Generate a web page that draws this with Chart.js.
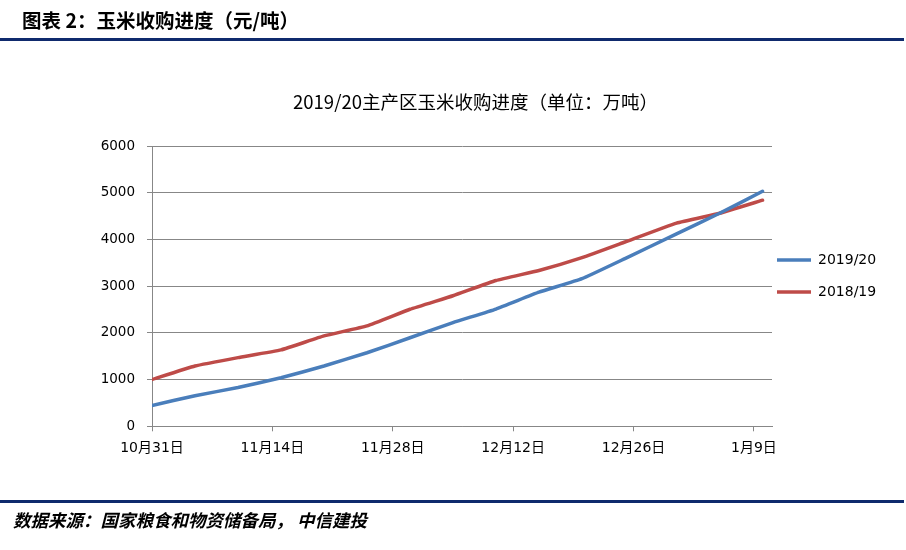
<!DOCTYPE html>
<html><head><meta charset="utf-8">
<script src="https://cdn.jsdelivr.net/npm/chart.js@4.4.1/dist/chart.umd.min.js"></script>
<style>
html,body{margin:0;padding:0;background:#fff;}
#wrap{position:relative;width:906px;height:550px;overflow:hidden;}
#c{position:absolute;left:0;top:0;}
.hd{position:absolute;left:22px;top:9px;font:bold 19.5px "Noto Sans CJK SC";line-height:22px;color:#000;white-space:nowrap;z-index:2;}
.ln{position:absolute;left:0;width:904px;height:3px;background:#0f2a6d;z-index:2;}
.ft{position:absolute;left:13px;top:510px;font:italic bold 17.5px "Noto Sans CJK SC";line-height:20px;color:#000;white-space:nowrap;z-index:2;}
</style></head>
<body><div id="wrap">
<canvas id="c" width="906" height="550"></canvas>
<div class="hd">图表 2：玉米收购进度（元/吨）</div>
<div class="ln" style="top:38px"></div>
<div class="ln" style="top:500px"></div>
<div class="ft">数据来源：国家粮食和物资储备局， 中信建投</div>
</div>
<script>
const reportDates = ['2019-10-31','2019-11-05','2019-11-10','2019-11-15','2019-11-20','2019-11-25','2019-11-30','2019-12-05','2019-12-10','2019-12-15','2019-12-20','2019-12-25','2019-12-31','2020-01-05','2020-01-10'];
const season2019 = [446, 655, 830, 1040, 1290, 1575, 1895, 2220, 2510, 2870, 3160, 3590, 4120, 4560, 5030];
const season2018 = [1000, 1290, 1470, 1635, 1935, 2150, 2505, 2795, 3120, 3335, 3610, 3945, 4350, 4560, 4840];
const tickDates = ['2019-10-31','2019-11-14','2019-11-28','2019-12-12','2019-12-26','2020-01-09'];
const tickLabels = ['10月31日','11月14日','11月28日','12月12日','12月26日','1月9日'];
const yTicks = [0,1000,2000,3000,4000,5000,6000];
const seriesNames = ['2019/20','2018/19'];
const chartTitle = '2019/20主产区玉米收购进度（单位：万吨）';

const DAY = 86400000;
const t0 = Date.parse(reportDates[0]);
const dayOf = d => Math.round((Date.parse(d) - t0) / DAY);
const xs = reportDates.map(dayOf);
const tickDays = tickDates.map(dayOf);

const GRID = '#878787';
const legendShift = {
  id: 'legendShift',
  afterLayout(chart) {
    const l = chart.legend;
    l.left -= 13; l.right += 20;
    l.top += 43; l.bottom += 43;
  }
};

new Chart(document.getElementById('c'), {
  type: 'line',
  data: {
    datasets: [
      {label: seriesNames[0], data: xs.map((x,i)=>({x, y: season2019[i]})), borderColor: '#4A7EBB', backgroundColor: '#4A7EBB', borderWidth: 3.5, pointRadius: 0, tension: 0.12, borderCapStyle: 'round', borderJoinStyle: 'round'},
      {label: seriesNames[1], data: xs.map((x,i)=>({x, y: season2018[i]})), borderColor: '#BE4B48', backgroundColor: '#BE4B48', borderWidth: 3.5, pointRadius: 0, tension: 0.12, borderCapStyle: 'round', borderJoinStyle: 'round'}
    ]
  },
  options: {
    responsive: false,
    animation: false,
    layout: {padding: {left: 65, right: 20, top: 0, bottom: 83.9}},
    plugins: {
      title: {display: true, text: chartTitle, color: '#000', font: {family: '"Noto Sans CJK SC"', size: 18.5, weight: 'normal', lineHeight: 1.2}, padding: {top: 90.4, bottom: 33.4}},
      legend: {
        position: 'right', align: 'center', maxWidth: 114,
        labels: {usePointStyle: true, pointStyle: 'line', pointStyleWidth: 34, boxWidth: 34, padding: 18, color: '#000', font: {family: '"DejaVu Sans"', size: 14}}
      },
      tooltip: {enabled: false}
    },
    scales: {
      x: {
        type: 'linear', min: 0, max: 72.1,
        afterBuildTicks: s => { s.ticks = tickDays.map(v => ({value: v})); },
        ticks: {callback: (v) => tickLabels[tickDays.indexOf(v)], color: '#000', padding: 9, maxRotation: 0, autoSkip: false, font: {family: '"DejaVu Sans", "Noto Sans CJK SC"', size: 14}},
        grid: {drawOnChartArea: false, drawTicks: true, tickLength: 5, color: GRID, tickColor: GRID},
        border: {color: GRID, width: 1}
      },
      y: {
        min: 0, max: 6000,
        afterBuildTicks: s => { s.ticks = yTicks.map(v => ({value: v})); },
        afterFit: s => { s.width = 87; },
        ticks: {callback: v => String(v), color: '#000', padding: 12, font: {family: '"DejaVu Sans"', size: 13.5}},
        grid: {color: GRID, tickColor: GRID, tickLength: 5, lineWidth: 1},
        border: {color: GRID, width: 1}
      }
    }
  },
  plugins: [legendShift]
});
</script>
</body></html>
